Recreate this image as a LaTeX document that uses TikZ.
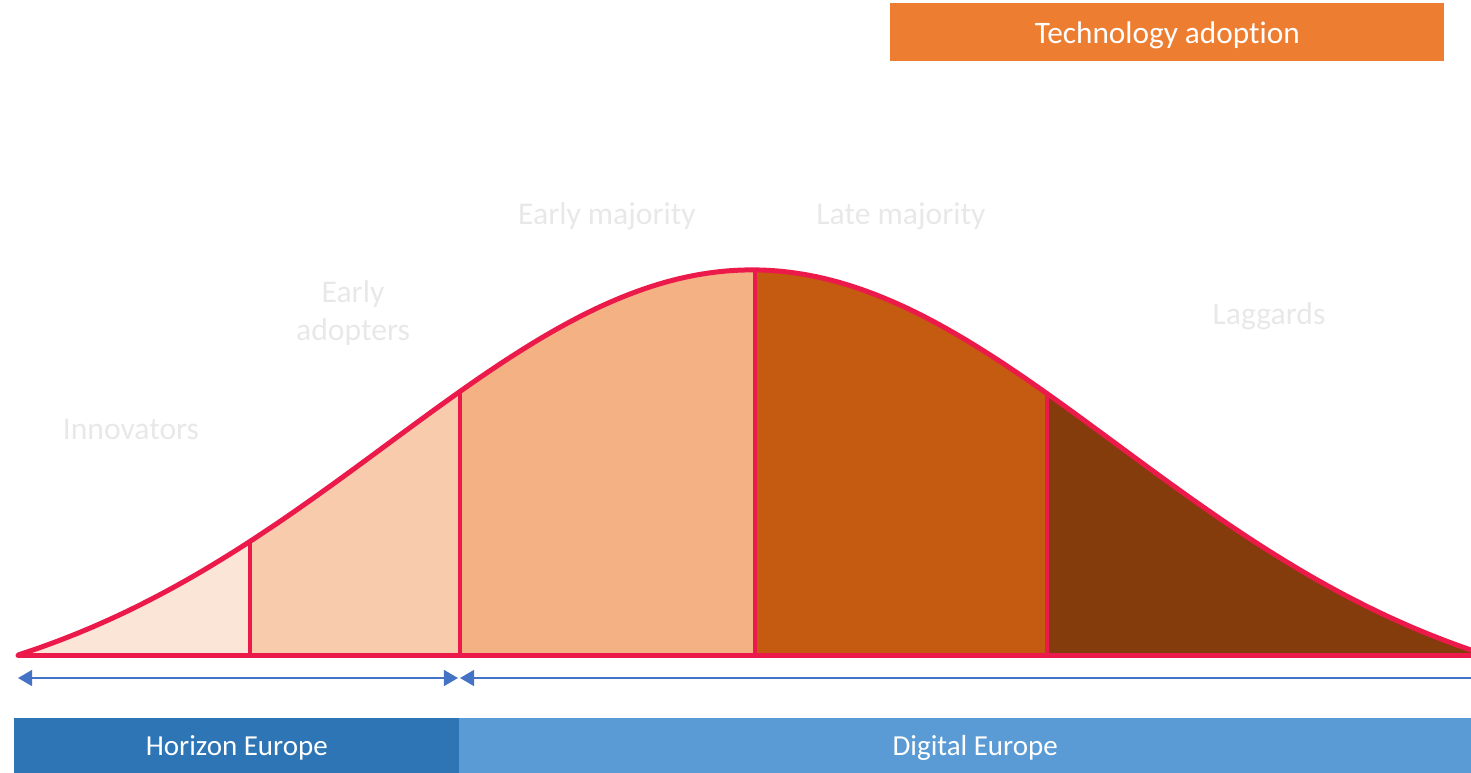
\documentclass[tikz,border=0pt]{standalone}
\usepackage{fontspec}
\setmainfont{Carlito}[Ligatures=NoCommon]
\usetikzlibrary{arrows.meta, positioning}

\definecolor{curvered}{HTML}{EC1A4B}
\definecolor{innov}{HTML}{FAE5D7}
\definecolor{earlyad}{HTML}{F7CBAC}
\definecolor{earlymaj}{HTML}{F3B184}
\definecolor{latemaj}{HTML}{C55A11}
\definecolor{lagg}{HTML}{843C0C}
\definecolor{arrowblue}{HTML}{4472C4}
\definecolor{horizonblue}{HTML}{2E75B6}
\definecolor{digitalblue}{HTML}{5B9BD5}
\definecolor{titleorange}{HTML}{ED7D31}
\definecolor{labelgray}{HTML}{E8E8E8}

\begin{document}
\begin{tikzpicture}[
    x=0.02cm, y=-0.02cm,
    declare function={bell(\x)=443.8*(exp(-((\x-752)/100)^2/26.645)-0.1324);},
    curve/.style={
        draw=curvered,
        line width=0.1cm,
        line join=round
    },
    divider/.style={
        draw=curvered,
        line width=0.08cm
    },
    span/.style={
        draw=arrowblue,
        line width=0.04cm
    },
    bar/.style={
        rectangle,
        inner sep=0pt,
        minimum height=1.2cm,
        anchor=north west,
        text=white,
        font=\fontsize{16.5}{19}\selectfont
    },
    group/.style={
        align=center,
        text=labelgray,
        font=\fontsize{18}{21.6}\selectfont
    }
]
\useasboundingbox (0,0) rectangle (1471,772);

% Areas under the curve
\fill[innov] (18,655) -- plot[domain=18:250, samples=40] (\x,{655-bell(\x)}) -- (250,655) -- cycle;
\fill[earlyad] (250,655) -- plot[domain=250:460, samples=40] (\x,{655-bell(\x)}) -- (460,655) -- cycle;
\fill[earlymaj] (460,655) -- plot[domain=460:755, samples=40] (\x,{655-bell(\x)}) -- (755,655) -- cycle;
\fill[latemaj] (755,655) -- plot[domain=755:1047, samples=40] (\x,{655-bell(\x)}) -- (1047,655) -- cycle;
\fill[lagg] (1047,655) -- plot[domain=1047:1486, samples=60] (\x,{655-bell(\x)}) -- (1486,655) -- cycle;

% Dividers
\foreach \xd in {250,460,755,1047}
    \draw[divider] (\xd,655) -- (\xd,{655-bell(\xd)});

% Curve and baseline
\draw[curve] plot[domain=18:1486, samples=150] (\x,{655-bell(\x)});
\draw[curve, line cap=round] (18,655) -- (1486,655);

% Labels
\node[group] (innovators) at (131,429) {Innovators};
\node[group] (adopters) at (353,313) {Early\\adopters};
\node[group] (earlymajority) at (607,216) {Early majority};
\node[group] (latemajority) at (901,216) {Late majority};
\node[group] (laggards) at (1269,316) {Laggards};

% Title
\node[bar, fill=titleorange, minimum width=11.08cm, minimum height=1.16cm, text depth=0pt,
      font=\fontsize{17.8}{21}\selectfont] (title) at (890,3) {Technology adoption};

% Programmes
\node[bar, fill=horizonblue, minimum width=8.9cm] (horizon) at (14,718) {Horizon Europe};
\node[bar, fill=digitalblue, minimum width=20.64cm] (digital) at (459,718) {Digital Europe};

% Spans
\coordinate (hstart) at (18,678);
\coordinate (hend) at (458,678);
\coordinate (dstart) at (460,678);
\coordinate (dend) at (1471,678);
\draw[span, {Triangle[length=8pt, width=9pt]}-{Triangle[length=8pt, width=9pt]}] (hstart) -- (hend);
\draw[span, {Triangle[length=8pt, width=9pt]}-] (dstart) -- (dend);

\end{tikzpicture}
\end{document}
